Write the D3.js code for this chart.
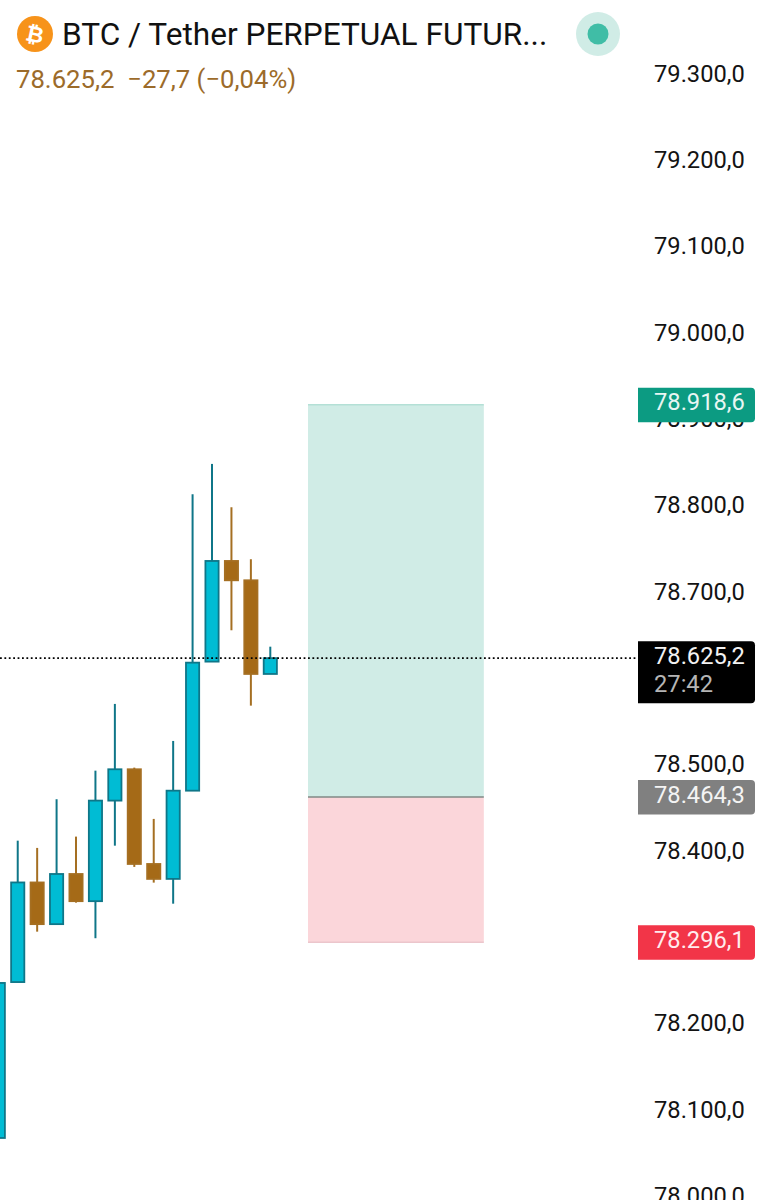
<!DOCTYPE html>
<html>
<head>
<meta charset="utf-8">
<script src="https://cdn.jsdelivr.net/npm/d3@7"></script>
<style>
	html, body { margin: 0; padding: 0; background: #fff; overflow: hidden; }
	svg { display: block; }
	text { font-family: Roboto, sans-serif; }
</style>
</head>
<body>
<svg></svg>
<script>
const opens = [78069.4, 78250, 78365.4, 78317.1, 78375.2, 78343.7, 78460.2, 78496.5, 78386.8, 78369.5, 78471.7, 78621.2, 78737.8, 78715.4, 78606.9]
const highs = [78249, 78413.8, 78405.4, 78461.8, 78418.5, 78494.9, 78572.2, 78498.4, 78439, 78529.3, 78815, 78850.2, 78800, 78739.8, 78638.5]
const lows = [78069.4, 78250, 78308.4, 78317.1, 78342, 78300.8, 78408, 78383.4, 78365.2, 78340.8, 78471.7, 78621.2, 78657.5, 78570.2, 78606.9]
const closes = [78249, 78365.4, 78317.1, 78375.2, 78343.7, 78460.2, 78496.5, 78386.8, 78369.5, 78471.7, 78620, 78737.8, 78715.4, 78606.9, 78625.2]

const priceTicks = [79300, 79200, 79100, 79000, 78900, 78800, 78700, 78600, 78500, 78400, 78300, 78200, 78100, 78000]
const hiddenTicks = [78600, 78300]

const lastPrice = 78625.2
const countdown = '27:42'
const targetPrice = 78918.6
const entryPrice = 78464.3
const stopPrice = 78296.1
const positionBars = [15.94, 24.99]

const title = 'BTC / Tether PERPETUAL FUTUR...'
const subtitle = '78.625,2\u00a0\u00a0\u221227,7 (\u22120,04%)'

const fmt = d => d3.format(',.1f')(d).replace(/,/g, '#').replace('.', ',').replace('#', '.')

function drawChart () {
	const width = 763
	const height = 1200
	const axisLeft = 638
	const tagRight = 755
	const up = { fill: '#00bcd4', stroke: '#0f7688' }
	const down = { fill: '#a56a17', stroke: '#a56f22' }

	const svg = d3.select('svg')
		.attr('width', width)
		.attr('height', height)
		.attr('viewBox', `0 0 ${width} ${height}`)

	const x = d3.scaleLinear().domain([0, 14]).range([-1.7, 270.3])
	const y = d3.scaleLinear().domain([78000, 79300]).range([1197.9, 75.6])

	// position tool
	const zones = [
		{ from: targetPrice, to: entryPrice, fill: '#d0ece6' },
		{ from: entryPrice, to: stopPrice, fill: '#fbd6da' }
	]
	svg.selectAll('rect.zone')
		.data(zones)
		.join('rect')
		.attr('class', 'zone')
		.attr('x', x(positionBars[0]))
		.attr('width', x(positionBars[1]) - x(positionBars[0]))
		.attr('y', d => y(d.from))
		.attr('height', d => y(d.to) - y(d.from))
		.attr('fill', d => d.fill)
	svg.selectAll('line.zone-edge')
		.data([
			{ price: targetPrice, color: '#b4e0d6', w: 1.5 },
			{ price: stopPrice, color: '#ecc6cc', w: 1.5 },
			{ price: entryPrice, color: '#808a86', w: 1.6 }
		])
		.join('line')
		.attr('class', 'zone-edge')
		.attr('x1', x(positionBars[0]))
		.attr('x2', x(positionBars[1]))
		.attr('y1', d => y(d.price))
		.attr('y2', d => y(d.price))
		.attr('stroke', d => d.color)
		.attr('stroke-width', d => d.w)

	// candles
	const candles = opens.map((o, i) => ({ i, o, h: highs[i], l: lows[i], c: closes[i] }))
	const g = svg.selectAll('g.candle')
		.data(candles)
		.join('g')
		.attr('class', 'candle')
		.attr('transform', d => `translate(${x(d.i)},0)`)
	g.append('line')
		.attr('y1', d => y(d.h))
		.attr('y2', d => y(d.l))
		.attr('stroke', d => d.c >= d.o ? up.stroke : down.stroke)
		.attr('stroke-width', 2)
	g.append('rect')
		.attr('x', -6.6)
		.attr('width', 13.2)
		.attr('y', d => y(Math.max(d.o, d.c)))
		.attr('height', d => Math.abs(y(d.o) - y(d.c)))
		.attr('fill', d => d.c >= d.o ? up.fill : down.fill)
		.attr('stroke', d => d.c >= d.o ? up.stroke : down.stroke)
		.attr('stroke-width', 1.8)

	// last price line
	svg.append('line')
		.attr('x1', 0)
		.attr('x2', axisLeft)
		.attr('y1', y(lastPrice))
		.attr('y2', y(lastPrice))
		.attr('stroke', '#000')
		.attr('stroke-width', 1.8)
		.attr('stroke-dasharray', '1.8 2.6')

	// price axis
	const axis = d3.axisRight(y)
		.tickValues(priceTicks.filter(d => !hiddenTicks.includes(d)))
		.tickSize(0)
		.tickPadding(0)
		.tickFormat(fmt)
	const axisG = svg.append('g')
		.attr('transform', `translate(${654},-2)`)
		.call(axis)
	axisG.select('.domain').remove()
	axisG.selectAll('text')
		.attr('font-family', 'Roboto, sans-serif')
		.attr('font-size', 23.7)
		.attr('fill', '#131313')

	// tags on the axis
	const tagPath = (top, bottom) => {
		const r = 4
		const p = d3.path()
		p.moveTo(axisLeft, top)
		p.lineTo(tagRight - r, top)
		p.quadraticCurveTo(tagRight, top, tagRight, top + r)
		p.lineTo(tagRight, bottom - r)
		p.quadraticCurveTo(tagRight, bottom, tagRight - r, bottom)
		p.lineTo(axisLeft, bottom)
		p.closePath()
		return p.toString()
	}
	const tags = [
		{ price: targetPrice, fill: '#0c9b82', color: '#e8f6f3' },
		{ price: entryPrice, fill: '#808080', color: '#f4f4f4' },
		{ price: stopPrice, fill: '#f23548', color: '#ffecee' }
	]
	svg.selectAll('path.tag')
		.data(tags)
		.join('path')
		.attr('class', 'tag')
		.attr('d', d => tagPath(y(d.price) - 17, y(d.price) + 17.5))
		.attr('fill', d => d.fill)
	svg.selectAll('text.tag-label')
		.data(tags)
		.join('text')
		.attr('class', 'tag-label')
		.attr('x', 654)
		.attr('y', d => y(d.price) - 2)
		.attr('dy', '0.32em')
		.attr('font-size', 23.7)
		.attr('fill', d => d.color)
		.text(d => fmt(d.price))

	const ly = y(lastPrice)
	svg.append('path')
		.attr('d', tagPath(ly - 17, ly + 45))
		.attr('fill', '#000')
	svg.append('text')
		.attr('x', 654)
		.attr('y', ly - 2)
		.attr('dy', '0.32em')
		.attr('font-size', 23.7)
		.attr('fill', '#f2f2f2')
		.text(fmt(lastPrice))
	svg.append('text')
		.attr('x', 654)
		.attr('y', ly + 26)
		.attr('dy', '0.32em')
		.attr('font-size', 23.7)
		.attr('fill', '#b5b5b5')
		.text(countdown)

	// header
	svg.append('circle').attr('cx', 35).attr('cy', 34).attr('r', 18).attr('fill', '#f7931a')
	svg.append('text')
		.attr('transform', 'translate(35,34) rotate(12)')
		.attr('text-anchor', 'middle')
		.attr('dy', '0.36em')
		.attr('font-family', 'DejaVu Sans, sans-serif')
		.attr('font-weight', 'bold')
		.attr('font-size', 22)
		.attr('fill', '#fff')
		.text('\u20bf')
	svg.append('text')
		.attr('x', 62)
		.attr('y', 44.5)
		.attr('font-size', 31.6)
		.attr('fill', '#111')
		.text(title)
	svg.append('text')
		.attr('x', 16)
		.attr('y', 88)
		.attr('font-size', 25.7)
		.attr('fill', '#9c6b2a')
		.text(subtitle)
	svg.append('circle').attr('cx', 598).attr('cy', 34).attr('r', 22).attr('fill', '#d0ece6')
	svg.append('circle').attr('cx', 598).attr('cy', 34).attr('r', 10.5).attr('fill', '#40bda6')
}

document.addEventListener('DOMContentLoaded', drawChart)
</script>
</body>
</html>
